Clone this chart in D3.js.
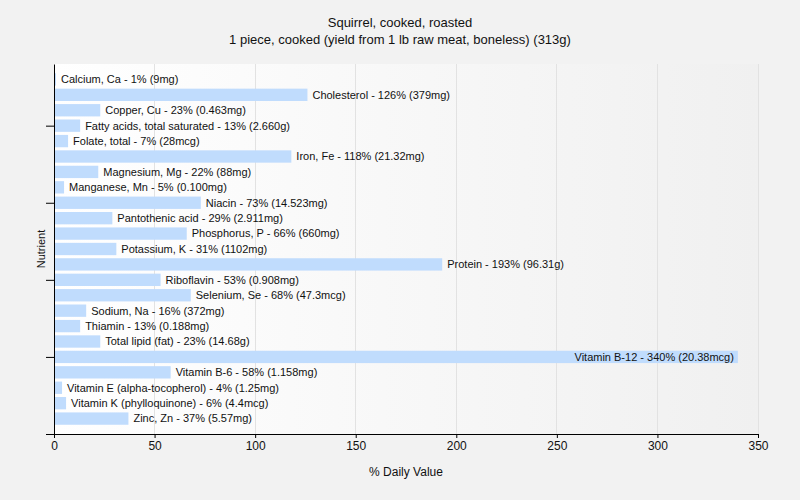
<!DOCTYPE html>
<html><head><meta charset="utf-8">
<script src="https://cdn.jsdelivr.net/npm/d3@7"></script>
<style>
body{margin:0;background:#f2f2f2;}
text{font-family:"Liberation Sans",Arial,sans-serif;fill:#111;}
</style></head><body>
<svg id="c" width="800" height="500"></svg>
<script>
const categories = ["Calcium, Ca","Cholesterol","Copper, Cu","Fatty acids, total saturated","Folate, total","Iron, Fe","Magnesium, Mg","Manganese, Mn","Niacin","Pantothenic acid","Phosphorus, P","Potassium, K","Protein","Riboflavin","Selenium, Se","Sodium, Na","Thiamin","Total lipid (fat)","Vitamin B-12","Vitamin B-6","Vitamin E (alpha-tocopherol)","Vitamin K (phylloquinone)","Zinc, Zn"];
const values = [1,126,23,13,7,118,22,5,73,29,66,31,193,53,68,16,13,23,340,58,4,6,37];
const amounts = ["9mg","379mg","0.463mg","2.660g","28mcg","21.32mg","88mg","0.100mg","14.523mg","2.911mg","660mg","1102mg","96.31g","0.908mg","47.3mcg","372mg","0.188mg","14.68g","20.38mcg","1.158mg","1.25mg","4.4mcg","5.57mg"];
const xTicks = [0,50,100,150,200,250,300,350];
const titleLines = ["Squirrel, cooked, roasted","1 piece, cooked (yield from 1 lb raw meat, boneless) (313g)"];

const svg = d3.select("#c");
const L=54,R=758,T=64,B=434;
const x = d3.scaleLinear().domain([0,350]).range([L,R]);
const y = d3.scalePoint().domain(categories).range([T,B]).padding(1);
const step = y.step();
const bh = step*0.8;

const defs = svg.append("defs");
const g = defs.append("linearGradient").attr("id","bg").attr("x1",0).attr("x2",1).attr("y1",0).attr("y2",0);
g.append("stop").attr("offset","0%").attr("stop-color","#ffffff");
g.append("stop").attr("offset","100%").attr("stop-color","#f0f0f0");
svg.append("rect").attr("x",L).attr("y",T).attr("width",R-L).attr("height",B-T).attr("fill","url(#bg)");

svg.append("g").selectAll("line").data(xTicks.slice(1)).join("line")
  .attr("x1",d=>x(d)).attr("x2",d=>x(d)).attr("y1",T).attr("y2",B)
  .attr("stroke","#e2e2e2").attr("stroke-width",1).attr("shape-rendering","crispEdges");

svg.append("g").selectAll("rect").data(categories).join("rect")
  .attr("x",x(0)).attr("y",d=>y(d)-bh/2).attr("width",(d,i)=>x(values[i])-x(0)).attr("height",bh)
  .attr("fill","#c0dcfd");

svg.append("g").selectAll("text").data(categories).join("text")
  .attr("font-size","11px")
  .attr("dy","0.35em")
  .attr("y",d=>y(d))
  .attr("x",(d,i)=> x(values[i])+ (x(values[i])>R-200 ? -4 : 5))
  .attr("text-anchor",(d,i)=> x(values[i])>R-200 ? "end":"start")
  .text((d,i)=>`${d} - ${values[i]}% (${amounts[i]})`);

const xa = svg.append("g").attr("transform",`translate(0,${B})`)
  .call(d3.axisBottom(x).tickValues(xTicks).tickSize(4).tickSizeOuter(0).tickPadding(3));
xa.select(".domain").attr("d",`M${L-8},0.5H${R}`).attr("stroke","#000");
xa.selectAll("text").attr("font-size","12px").attr("fill","#111");

const ya = svg.append("g").attr("transform",`translate(${L},0)`)
  .call(d3.axisLeft(y).tickValues(categories.filter((d,i)=>i%5===3)).tickSize(8).tickSizeOuter(0).tickFormat(""));
ya.select(".domain").attr("stroke","#000");

svg.append("text").attr("x",(L+R)/2).attr("y",476).attr("text-anchor","middle").attr("font-size","12px").text("% Daily Value");
svg.append("text").attr("transform",`translate(45,${(T+B)/2}) rotate(-90)`).attr("text-anchor","middle").attr("font-size","11px").text("Nutrient");

svg.append("g").selectAll("text").data(titleLines).join("text")
  .attr("x",400).attr("y",(d,i)=>27+i*17).attr("text-anchor","middle").attr("font-size","13px").text(d=>d);
</script></body></html>
